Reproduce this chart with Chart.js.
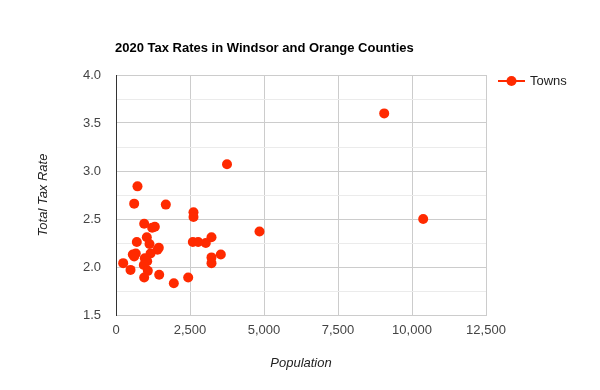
<!DOCTYPE html>
<html>
<head>
<meta charset="utf-8">
<script src="https://cdn.jsdelivr.net/npm/chart.js@4/dist/chart.umd.min.js"></script>
<style>
  html, body { margin: 0; padding: 0; background: #fff; }
  canvas { display: block; }
</style>
</head>
<body>
<canvas id="taxChart" width="600" height="390"></canvas>
<script>
// --- DATA ---
const population = [
    3750, 726, 614, 1683, 2618, 2618, 952, 1222, 1312, 4848,
    1041, 3226, 703, 2596, 2776, 3034, 1132, 1446, 1402, 568,
    669, 614, 1166, 3541, 3226, 3226, 243, 973, 1054, 939,
    490, 1075, 952, 1459, 2439, 1953, 9061, 10378
];
const taxRate = [
    3.07, 2.84, 2.66, 2.65, 2.57, 2.52, 2.45, 2.41, 2.42, 2.37,
    2.31, 2.31, 2.26, 2.26, 2.26, 2.25, 2.24, 2.20, 2.18, 2.13,
    2.14, 2.11, 2.14, 2.13, 2.10, 2.04, 2.04, 2.09, 2.06, 2.02,
    1.97, 1.96, 1.89, 1.92, 1.89, 1.83, 3.60, 2.50
];
const xTicks = [0, 2500, 5000, 7500, 10000, 12500];
const yTicks = [1.5, 2.0, 2.5, 3.0, 3.5, 4.0];

const TITLE = "2020 Tax Rates in Windsor and Orange Counties";
const SERIES = "Towns";
const RED = '#ff2a00';
const FONT = "Arial, 'Liberation Sans', sans-serif";

const points = population.map((p, i) => ({ x: p, y: taxRate[i] }));

// title + google-style legend drawn straight on the canvas
const decorations = {
    id: 'decorations',
    afterDraw(chart) {
        const ctx = chart.ctx;
        ctx.save();
        ctx.fillStyle = '#000';
        ctx.font = "bold 13px " + FONT;
        ctx.textBaseline = 'middle';
        ctx.textAlign = 'left';
        ctx.fillText(TITLE, 115, 48);

        // legend marker: short line with a dot
        ctx.strokeStyle = RED;
        ctx.lineWidth = 2;
        ctx.beginPath();
        ctx.moveTo(498, 81);
        ctx.lineTo(525, 81);
        ctx.stroke();
        ctx.fillStyle = RED;
        ctx.beginPath();
        ctx.arc(511.5, 81, 5, 0, Math.PI * 2);
        ctx.fill();

        ctx.fillStyle = '#222';
        ctx.font = "13px " + FONT;
        ctx.fillText(SERIES, 530, 81);
        ctx.restore();
    }
};

new Chart(document.getElementById('taxChart').getContext('2d'), {
    type: 'scatter',
    data: {
        datasets: [{
            label: SERIES,
            data: points,
            backgroundColor: RED,
            borderColor: RED,
            pointRadius: 5,
            pointHoverRadius: 5,
            borderWidth: 0
        }]
    },
    options: {
        responsive: false,
        animation: false,
        layout: { padding: { left: 0, right: 114, top: 75, bottom: 0 } },
        scales: {
            x: {
                type: 'linear',
                min: xTicks[0],
                max: xTicks[xTicks.length - 1],
                afterFit(scale) { scale.height = 75; },
                afterBuildTicks(scale) { scale.ticks = xTicks.map(v => ({ value: v })); },
                ticks: {
                    padding: 8,
                    color: '#444',
                    font: { family: FONT, size: 13 },
                    callback: v => v.toLocaleString('en-US')
                },
                grid: { color: '#cccccc', drawTicks: false },
                border: { color: '#cccccc' },
                title: {
                    display: true,
                    text: 'Population',
                    color: '#222',
                    font: { family: FONT, size: 13, style: 'italic' },
                    padding: { top: 0, bottom: 19 }
                }
            },
            y: {
                type: 'linear',
                min: yTicks[0],
                max: yTicks[yTicks.length - 1],
                afterFit(scale) { scale.width = 116; },
                afterBuildTicks(scale) {
                    // major every 0.5 plus lighter minor lines in between
                    const t = [];
                    for (let i = 0; i < yTicks.length; i++) {
                        t.push({ value: yTicks[i] });
                        if (i < yTicks.length - 1) t.push({ value: (yTicks[i] + yTicks[i + 1]) / 2, minor: true });
                    }
                    scale.ticks = t;
                },
                ticks: {
                    padding: 15,
                    color: '#444',
                    font: { family: FONT, size: 13 },
                    callback: v => yTicks.includes(v) ? v.toFixed(1) : ''
                },
                grid: {
                    drawTicks: false,
                    color: c => (c.tick && yTicks.includes(c.tick.value)) ? '#cccccc' : '#ebebeb'
                },
                border: { color: '#333333' },
                title: {
                    display: true,
                    text: 'Total Tax Rate',
                    color: '#222',
                    font: { family: FONT, size: 13, style: 'italic' },
                    padding: { top: 36, bottom: 0 }
                }
            }
        },
        plugins: {
            legend: { display: false },
            tooltip: { enabled: false }
        }
    },
    plugins: [decorations]
});
</script>
</body>
</html>
